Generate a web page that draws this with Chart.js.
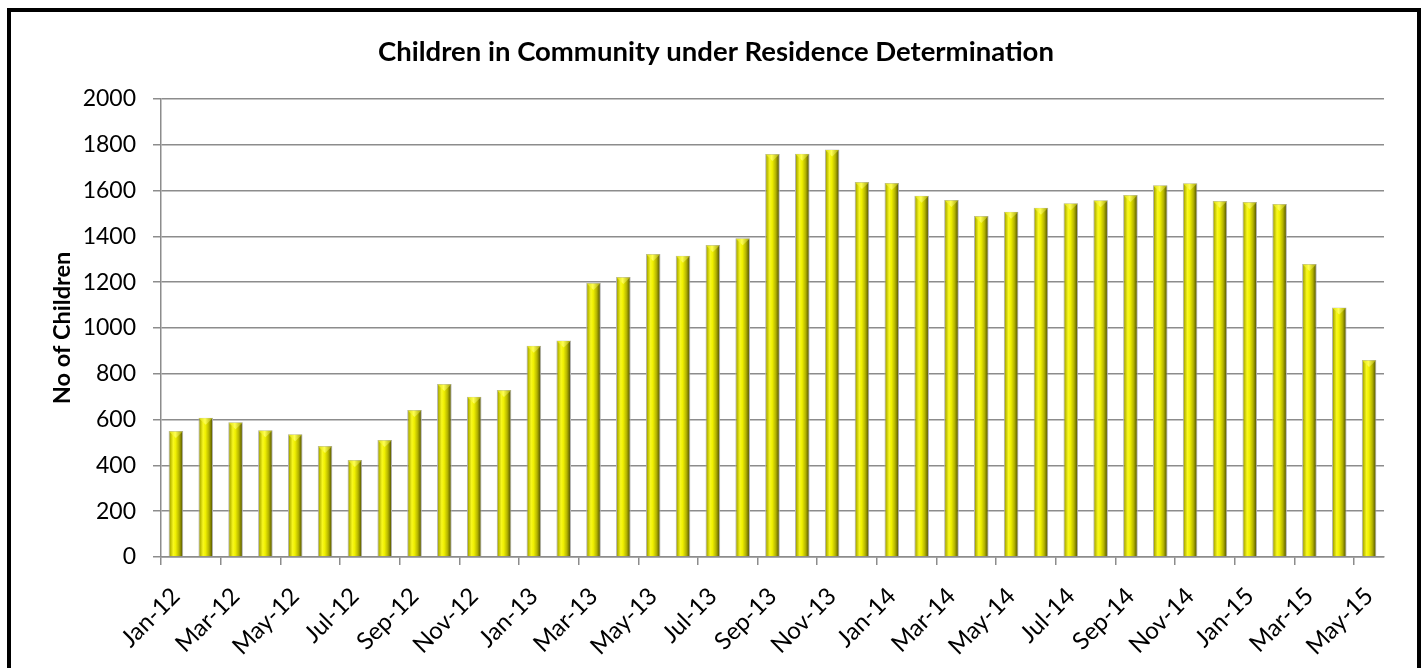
<!DOCTYPE html>
<html>
<head>
<meta charset="utf-8">
<script src="https://cdn.jsdelivr.net/npm/chart.js@4/dist/chart.umd.min.js"></script>
<style>
  html, body { margin: 0; padding: 0; background: #fff; overflow: hidden; }
  #wrap { position: absolute; left: 0; top: 0; width: 1425px; height: 668px; }
  #frame { position: absolute; left: 7px; top: 8px; width: 1406px; height: 700px; border: 4px solid #000; pointer-events: none; }
</style>
</head>
<body>
<div id="wrap"><canvas id="c" width="1425" height="668"></canvas></div>
<div id="frame"></div>
<script>
const categories = [
  'Jan-12','Feb-12','Mar-12','Apr-12','May-12','Jun-12','Jul-12','Aug-12','Sep-12','Oct-12','Nov-12','Dec-12',
  'Jan-13','Feb-13','Mar-13','Apr-13','May-13','Jun-13','Jul-13','Aug-13','Sep-13','Oct-13','Nov-13','Dec-13',
  'Jan-14','Feb-14','Mar-14','Apr-14','May-14','Jun-14','Jul-14','Aug-14','Sep-14','Oct-14','Nov-14','Dec-14',
  'Jan-15','Feb-15','Mar-15','Apr-15','May-15'
];
const children = [
  550, 608, 588, 553, 536, 485, 424, 511, 642, 755, 700, 729,
  923, 945, 1197, 1223, 1323, 1316, 1362, 1392, 1760, 1761, 1779, 1638,
  1633, 1578, 1559, 1489, 1508, 1525, 1545, 1558, 1581, 1623, 1632, 1555,
  1550, 1542, 1280, 1089, 860
];
const yTicks = [0, 200, 400, 600, 800, 1000, 1200, 1400, 1600, 1800, 2000];
const titleText = 'Children in Community under Residence Determination';
const yTitle = 'No of Children';

const BAR_FRAC = 0.49;

function barGradient(c) {
  const chart = c.chart;
  const xs = chart.scales && chart.scales.x;
  if (!xs || c.type !== 'data' || !isFinite(xs.width)) return '#e6e600';
  const cx = xs.getPixelForValue(c.dataIndex);
  const w = xs.width / categories.length * BAR_FRAC;
  const g = chart.ctx.createLinearGradient(cx - w / 2, 0, cx + w / 2, 0);
  g.addColorStop(0.0, '#6e6e00');
  g.addColorStop(0.12, '#b8b800');
  g.addColorStop(0.32, '#f8f820');
  g.addColorStop(0.48, '#f0f000');
  g.addColorStop(0.72, '#b4b400');
  g.addColorStop(1.0, '#404000');
  return g;
}

const capPlugin = {
  id: 'caps',
  afterDatasetsDraw(chart) {
    const ctx = chart.ctx;
    const meta = chart.getDatasetMeta(0);
    meta.data.forEach(el => {
      const p = el.getProps(['x', 'y', 'width'], true);
      const hw = p.width / 2;
      const g = ctx.createLinearGradient(p.x - hw, 0, p.x + hw, 0);
      g.addColorStop(0, '#d8d800');
      g.addColorStop(0.45, '#ffff50');
      g.addColorStop(1, '#9a9a00');
      ctx.save();
      ctx.beginPath();
      ctx.moveTo(p.x - hw + 0.5, p.y + 0.5);
      ctx.lineTo(p.x + hw - 0.5, p.y + 0.5);
      ctx.lineTo(p.x, p.y + 7);
      ctx.closePath();
      ctx.fillStyle = g;
      ctx.fill();
      ctx.restore();
    });
  }
};

new Chart(document.getElementById('c'), {
  type: 'bar',
  data: {
    labels: categories,
    datasets: [{
      data: children,
      backgroundColor: barGradient,
      borderColor: '#b4b4b4',
      borderWidth: 1,
      barPercentage: BAR_FRAC,
      categoryPercentage: 1.0
    }]
  },
  options: {
    responsive: false,
    animation: false,
    events: [],
    layout: { padding: { left: 48, right: 41, top: 0, bottom: 0 } },
    plugins: {
      legend: { display: false },
      tooltip: { enabled: false },
      title: {
        display: true,
        text: titleText,
        color: '#000',
        font: { family: 'Lato', size: 27.5, weight: 'bold' },
        padding: { top: 35.5, bottom: 30.5 }
      }
    },
    scales: {
      x: {
        offset: true,
        grid: {
          offset: true,
          drawOnChartArea: false,
          drawTicks: true,
          tickLength: 8,
          lineWidth: 1.5,
          color: (c) => (c.index % 2 === 0 ? '#8c8c8c' : 'rgba(0,0,0,0)')
        },
        border: { display: true, color: '#8c8c8c', width: 1.5 },
        ticks: {
          autoSkip: false,
          maxRotation: 45,
          minRotation: 45,
          padding: 17,
          color: '#000',
          font: { family: 'Lato', size: 24 },
          callback: (v, i) => (i % 2 === 0 ? categories[i] : '')
        },
        afterFit: (s) => { s.height = 111; }
      },
      y: {
        min: 0,
        max: 2000,
        afterBuildTicks: (s) => { s.ticks = yTicks.map(v => ({ value: v })); },
        grid: { color: '#8c8c8c', lineWidth: 1.5, tickLength: 8 },
        border: { display: true, color: '#8c8c8c', width: 1.5 },
        ticks: {
          padding: 17,
          color: '#000',
          font: { family: 'Lato', size: 23 },
          callback: (v) => String(v)
        },
        title: {
          display: true,
          text: yTitle,
          color: '#000',
          font: { family: 'Lato', size: 23.5, weight: 'bold' },
          padding: 0
        },
        afterFit: (s) => { s.width = 113; }
      }
    }
  },
  plugins: [capPlugin]
});
</script>
</body>
</html>
